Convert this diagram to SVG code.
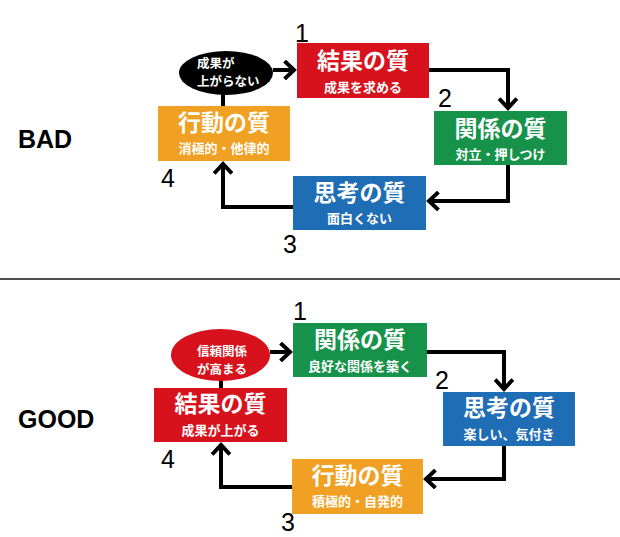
<svg xmlns="http://www.w3.org/2000/svg" width="620" height="537" viewBox="0 0 620 537">
<defs>
<marker id="ah" viewBox="-12 -10 14 20" markerWidth="14" markerHeight="20" refX="0" refY="0" orient="auto" markerUnits="userSpaceOnUse">
<path d="M-9,-7.5 L-1,0 L-9,7.5" fill="none" stroke="#000" stroke-width="4" stroke-linecap="square"/>
</marker>
<style>
.red{fill:#d7121d}
.green{fill:#17924a}
.blue{fill:#1f6db4}
.orange{fill:#f0a022}
.t{font-family:"Noto Sans CJK JP","Noto Sans",sans-serif;font-weight:bold;fill:#fff;text-anchor:middle}
.title{font-size:23px}
.sub{font-size:13px}
.el{font-family:"Noto Sans CJK JP","Noto Sans",sans-serif;font-weight:bold;fill:#fff;font-size:12.5px}
.num{font-family:"Liberation Sans",Arial,sans-serif;font-size:25px;fill:#000;text-anchor:middle}
.lbl{font-family:"Liberation Sans",Arial,sans-serif;font-size:25px;font-weight:bold;fill:#000}
.c{fill:none;stroke:#000;stroke-width:4}
</style>
</defs>
<rect width="620" height="537" fill="#fff"/>

<text class="lbl" x="18" y="148">BAD</text>
<text class="lbl" x="18" y="428">GOOD</text>
<line x1="0" y1="279" x2="620" y2="279" stroke="#505050" stroke-width="2"/>

<g id="connectors">
<path class="c" d="M273,70 H295" marker-end="url(#ah)"/>
<path class="c" d="M429,70 H508 V109" marker-end="url(#ah)"/>
<path class="c" d="M508,165 V201 H428" marker-end="url(#ah)"/>
<path class="c" d="M293,207 H223 V163" marker-end="url(#ah)"/>
<path class="c" d="M223,94 V106"/>
<path class="c" d="M270,352 H291" marker-end="url(#ah)"/>
<path class="c" d="M427,352 H504 V390" marker-end="url(#ah)"/>
<path class="c" d="M504,446 V479 H425" marker-end="url(#ah)"/>
<path class="c" d="M292,487 H221 V444" marker-end="url(#ah)"/>
<path class="c" d="M221,380 V388"/>
</g>

<g id="bad-result">
<rect class="red" x="297" y="43" width="132" height="55"/>
<text class="t title" x="363" y="69">結果の質</text>
<text class="t sub" x="363" y="92">成果を求める</text>
</g>
<g id="bad-relation">
<rect class="green" x="434" y="111" width="133" height="54"/>
<text class="t title" x="500.5" y="137">関係の質</text>
<text class="t sub" x="500.5" y="159">対立・押しつけ</text>
</g>
<g id="bad-thinking">
<rect class="blue" x="293" y="176" width="133" height="54"/>
<text class="t title" x="359.5" y="201">思考の質</text>
<text class="t sub" x="359.5" y="223">面白くない</text>
</g>
<g id="bad-action">
<rect class="orange" x="158" y="106" width="132" height="55"/>
<text class="t title" x="224" y="131">行動の質</text>
<text class="t sub" x="224" y="153">消極的・他律的</text>
</g>
<g id="bad-bubble">
<ellipse cx="226" cy="73" rx="47" ry="22" fill="#000"/>
<text class="el" x="197" y="68">成果が</text>
<text class="el" x="197" y="86">上がらない</text>
</g>
<g id="bad-numbers">
<text class="num" x="302" y="42">1</text>
<text class="num" x="445" y="107">2</text>
<text class="num" x="290" y="253">3</text>
<text class="num" x="168" y="187">4</text>
</g>

<g id="good-relation">
<rect class="green" x="293" y="323" width="134" height="54"/>
<text class="t title" x="360" y="348">関係の質</text>
<text class="t sub" x="360" y="371">良好な関係を築く</text>
</g>
<g id="good-thinking">
<rect class="blue" x="443" y="392" width="132" height="54"/>
<text class="t title" x="509" y="416">思考の質</text>
<text class="t sub" x="509" y="439">楽しい、気付き</text>
</g>
<g id="good-action">
<rect class="orange" x="292" y="459" width="131" height="55"/>
<text class="t title" x="357.5" y="484">行動の質</text>
<text class="t sub" x="357.5" y="506">積極的・自発的</text>
</g>
<g id="good-result">
<rect class="red" x="154" y="388" width="133" height="54"/>
<text class="t title" x="220.5" y="412">結果の質</text>
<text class="t sub" x="220.5" y="435">成果が上がる</text>
</g>
<g id="good-bubble">
<ellipse class="red" cx="220.5" cy="355" rx="49.5" ry="26"/>
<text class="el" x="197" y="356">信頼関係</text>
<text class="el" x="197" y="374">が高まる</text>
</g>
<g id="good-numbers">
<text class="num" x="300" y="320">1</text>
<text class="num" x="442" y="389">2</text>
<text class="num" x="288" y="531">3</text>
<text class="num" x="168" y="468">4</text>
</g>
</svg>
